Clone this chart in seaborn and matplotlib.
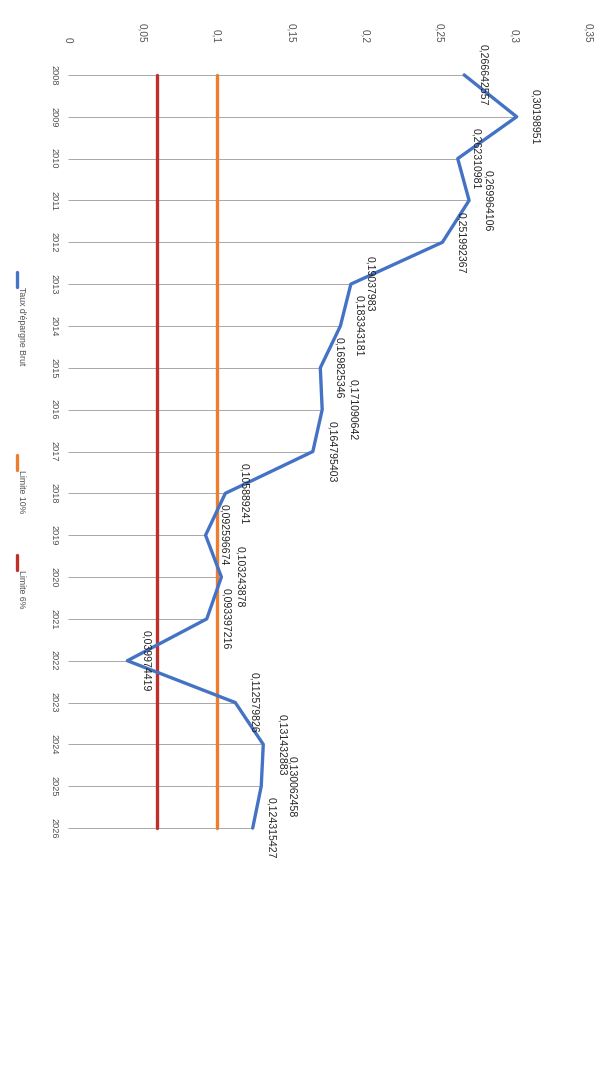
import numpy as np
import pandas as pd
import matplotlib
matplotlib.use("Agg")
import matplotlib.pyplot as plt
from matplotlib.lines import Line2D
import seaborn as sns

# Gross savings rate by year, with the two alert thresholds
annees = [2008, 2009, 2010, 2011, 2012, 2013, 2014, 2015, 2016, 2017,
          2018, 2019, 2020, 2021, 2022, 2023, 2024, 2025, 2026]
taux_epargne_brut = [0.266642557, 0.30198951, 0.262310981, 0.269964106,
                     0.251992367, 0.19037983, 0.183343181, 0.169825346,
                     0.171090642, 0.164795403, 0.105889241, 0.092596674,
                     0.103243878, 0.093397216, 0.039974419, 0.112579826,
                     0.131432883, 0.130062458, 0.124315427]
limite_10 = 0.10
limite_6 = 0.06
graduations = [0, 0.05, 0.10, 0.15, 0.20, 0.25, 0.30, 0.35]

serie_nom = "Taux d'épargne Brut"
limite_10_nom = "Limite 10%"
limite_6_nom = "Limite 6%"

BLEU = "#4472C4"
ORANGE = "#ED7D31"
ROUGE = "#C0302B"
GRIS = "#505050"

sns.set_theme(style="white")
plt.rcParams["font.family"] = ["Liberation Sans", "DejaVu Sans"]

df = pd.DataFrame({"annee": annees, "taux": taux_epargne_brut})
df_lim = pd.DataFrame({
    "annee": annees + annees,
    "taux": [limite_10] * len(annees) + [limite_6] * len(annees),
    "serie": [limite_10_nom] * len(annees) + [limite_6_nom] * len(annees),
})

W, H = 609, 1067
fig = plt.figure(figsize=(W / 100, H / 100), dpi=100)
ax = fig.add_axes([68 / W, 1 - 849 / H, 520 / W, 795 / H])

# drop lines from each point back to the value axis
ax.hlines(df["annee"], 0, df["taux"], color="#9a9a9a", lw=0.6, zorder=1)

sns.lineplot(data=df_lim, x="taux", y="annee", hue="serie", orient="y",
             sort=False, palette={limite_10_nom: ORANGE, limite_6_nom: ROUGE},
             lw=2.4, ax=ax, legend=False, zorder=2)
sns.lineplot(data=df, x="taux", y="annee", orient="y", sort=False,
             color=BLEU, lw=2.4, ax=ax, legend=False, zorder=3)

def fr(v):
    return repr(v).replace(".", ",")

# labels that would sit on top of their neighbour get pushed a little further out
decalage = {2016: 9, 2025: 9}
for a, v in zip(annees, taux_epargne_brut):
    ax.annotate(fr(v), xy=(v, a), xytext=(10 + decalage.get(a, 0), 0),
                textcoords="offset points", rotation=-90, ha="left",
                va="center", fontsize=7.6, color="#222222", zorder=4)

ax.set_xlim(0, 0.35)
ax.set_ylim(2026.5, 2007.5)
ax.set_xticks(graduations)
ax.set_xticklabels(["0" if g == 0 else f"{g:g}".replace(".", ",") for g in graduations])
ax.xaxis.tick_top()
ax.set_yticks(annees)
ax.set_yticklabels([str(a) for a in annees])
ax.tick_params(axis="x", rotation=-90, labelsize=7.2, colors=GRIS, length=0, pad=8)
ax.tick_params(axis="y", rotation=-90, labelsize=6.6, colors=GRIS, length=0, pad=7)
for lab in ax.get_yticklabels():
    lab.set_va("center")
for lab in ax.get_xticklabels():
    lab.set_ha("center")
ax.set_xlabel("")
ax.set_ylabel("")
for s in ax.spines.values():
    s.set_visible(False)
ax.grid(False)

# vertical legend along the left margin
entrees = [(serie_nom, BLEU, 272), (limite_10_nom, ORANGE, 455), (limite_6_nom, ROUGE, 555)]
for nom, couleur, y0 in entrees:
    fig.add_artist(Line2D([17 / W, 17 / W], [1 - y0 / H, 1 - (y0 + 15) / H],
                          transform=fig.transFigure, color=couleur, lw=2.4))
    fig.text(21 / W, 1 - (y0 + 15) / H, nom, rotation=-90, ha="center", va="top",
             fontsize=6.3, color=GRIS)

fig.savefig("out.png", dpi=100, facecolor="white")
